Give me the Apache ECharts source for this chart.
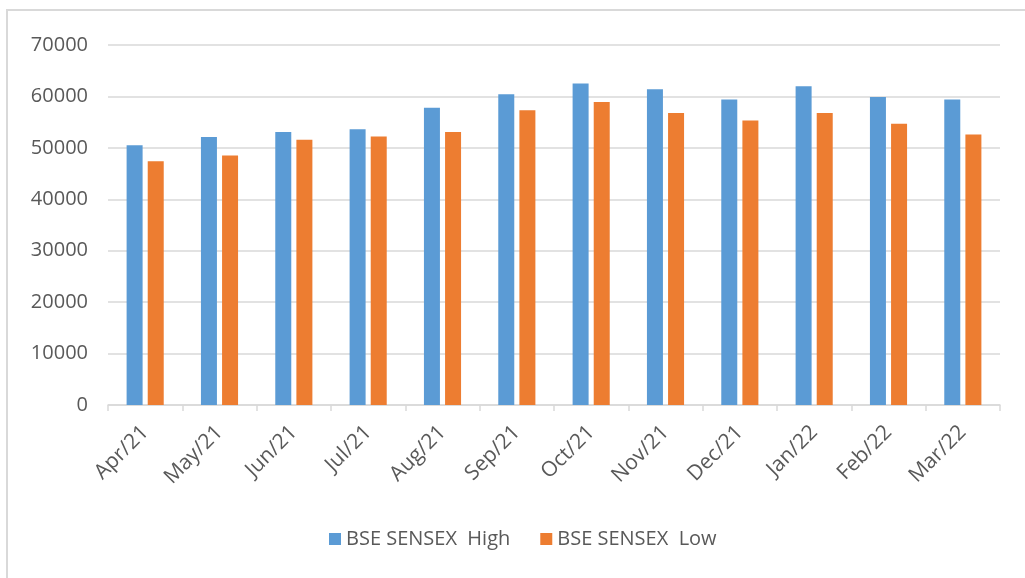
<!DOCTYPE html>
<html>
<head>
<meta charset="utf-8">
<script src="https://cdn.jsdelivr.net/npm/echarts@6/dist/echarts.min.js"></script>
<style>
  html, body { margin: 0; padding: 0; background: #ffffff; }
  #chart { width: 1025px; height: 578px; }
</style>
</head>
<body>
<div id="chart"></div>
<script>
// Monthly BSE SENSEX high / low, FY 2021-22
const months = ['Apr/21', 'May/21', 'Jun/21', 'Jul/21', 'Aug/21', 'Sep/21',
                'Oct/21', 'Nov/21', 'Dec/21', 'Jan/22', 'Feb/22', 'Mar/22'];
const sensexHigh = [50500, 52100, 53100, 53600, 57800, 60400, 62500, 61400, 59400, 62000, 59900, 59400];
const sensexLow  = [47400, 48500, 51600, 52200, 53100, 57300, 58900, 56800, 55300, 56800, 54700, 52600];
const seriesNames = ['BSE SENSEX  High', 'BSE SENSEX  Low'];

const textColor = '#595959';
const lineColor = '#d9d9d9';
const fontFamily = '"Open Sans", "Liberation Sans", sans-serif';

const chart = echarts.init(document.getElementById('chart'), null, { renderer: 'canvas' });

chart.setOption({
  animation: false,
  backgroundColor: '#ffffff',
  textStyle: { fontFamily: fontFamily },
  color: ['#5B9BD5', '#ED7D31'],
  grid: { left: 108, right: 25, top: 45, bottom: 173, containLabel: false },
  legend: {
    bottom: 24,
    left: 324,
    itemWidth: 12,
    itemHeight: 12,
    itemGap: 30,
    icon: 'rect',
    textStyle: { color: textColor, fontSize: 20, fontFamily: fontFamily, padding: [0, 0, 0, 0] },
    data: seriesNames
  },
  xAxis: {
    type: 'category',
    data: months,
    axisLine: { lineStyle: { color: lineColor, width: 1.5 } },
    axisTick: { show: true, length: 6, alignWithLabel: false, lineStyle: { color: lineColor, width: 1.5 } },
    axisLabel: { rotate: 45, margin: 24, color: textColor, fontSize: 21, fontFamily: fontFamily }
  },
  yAxis: {
    type: 'value',
    min: 0,
    max: 70000,
    interval: 10000,
    axisLine: { show: false },
    axisTick: { show: false },
    axisLabel: { margin: 20, color: textColor, fontSize: 20, fontFamily: fontFamily,
                 formatter: function (v) { return String(v); } },
    splitLine: { lineStyle: { color: lineColor, width: 1.5 } }
  },
  series: [
    { name: seriesNames[0], type: 'bar', data: sensexHigh, barWidth: 16, barGap: '32%' },
    { name: seriesNames[1], type: 'bar', data: sensexLow, barWidth: 16 }
  ],
  graphic: [
    { type: 'line', shape: { x1: 7, y1: 10, x2: 7, y2: 578 }, style: { stroke: lineColor, lineWidth: 2 } },
    { type: 'line', shape: { x1: 6, y1: 10, x2: 1025, y2: 10 }, style: { stroke: lineColor, lineWidth: 2 } }
  ]
});
</script>
</body>
</html>
